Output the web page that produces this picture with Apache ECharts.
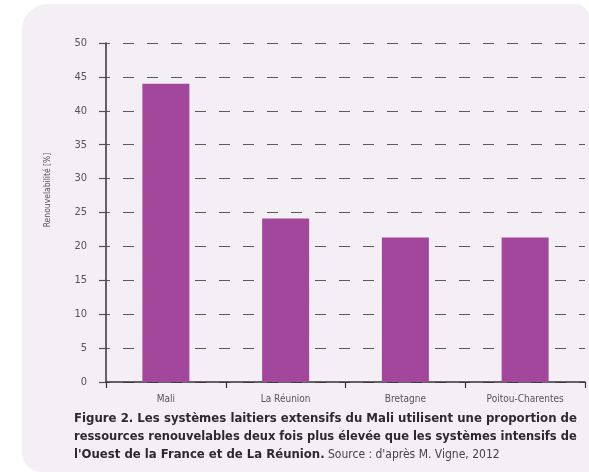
<!DOCTYPE html>
<html>
<head>
<meta charset="utf-8">
<script src="https://cdn.jsdelivr.net/npm/echarts@6/dist/echarts.min.js"></script>
<style>
  html, body { margin: 0; padding: 0; background: #ffffff; }
  #chart { width: 589px; height: 472px; }
</style>
</head>
<body>
<div id="chart"></div>
<script>
// Renewable share of resources used by dairy systems, by region
const categories = ['Mali', 'La Réunion', 'Bretagne', 'Poitou-Charentes'];
const renewableShare = [44, 24.1, 21.3, 21.3];
const yTicks = { min: 0, max: 50, step: 5 };

const axisName = 'Renouvelabilité [%]';
const captionLines = [
  'Figure 2. Les systèmes laitiers extensifs du Mali utilisent une proportion de',
  'ressources renouvelables deux fois plus élevée que les systèmes intensifs de',
  "l'Ouest de la France et de La Réunion."
];
const sourceNote = "Source : d'après M. Vigne, 2012";

const FONT = '"DejaVu Sans Condensed", "Open Sans", sans-serif';

const chart = echarts.init(document.getElementById('chart'), null, { renderer: 'canvas' });

chart.setOption({
  backgroundColor: '#ffffff',
  animation: false,
  grid: { left: 106, right: 4, top: 43, bottom: 90, containLabel: false },
  xAxis: {
    type: 'category',
    data: categories,
    boundaryGap: true,
    axisLine: { lineStyle: { color: '#333333', width: 1.5 } },
    axisTick: { show: true, length: 6, lineStyle: { color: '#333333', width: 1.2 } },
    axisLabel: { color: '#555555', fontFamily: FONT, fontSize: 10, margin: 12 }
  },
  yAxis: {
    type: 'value',
    min: yTicks.min,
    max: yTicks.max,
    interval: yTicks.step,
    axisLine: { show: true, lineStyle: { color: '#333333', width: 1.5 } },
    axisTick: { show: true, length: 7, lineStyle: { color: '#555555', width: 1.2 } },
    axisLabel: { color: '#555555', fontFamily: FONT, fontSize: 11, margin: 19 },
    splitLine: {
      show: true,
      lineStyle: { color: '#5a5a5a', width: 1.2, type: [11, 13], dashOffset: 7 }
    }
  },
  series: [{
    type: 'bar',
    data: renewableShare,
    barWidth: 47,
    itemStyle: { color: '#a2479b' },
    z: 3
  }],
  graphic: [
    {
      type: 'rect',
      z: -10,
      silent: true,
      shape: { x: 22, y: 4, width: 567, height: 468, r: [26, 14, 0, 20] },
      style: { fill: '#f4eef5' }
    },
    {
      type: 'text',
      x: 48, y: 190,
      rotation: Math.PI / 2,
      style: {
        text: axisName,
        fill: '#555555',
        font: '8.5px ' + FONT,
        align: 'center',
        verticalAlign: 'middle'
      }
    },
    {
      type: 'text',
      x: 74, y: 419,
      scaleX: 1.004,
      style: {
        text: captionLines[0],
        fill: '#2b2b2b',
        font: 'bold 13px ' + FONT,
        verticalAlign: 'middle'
      }
    },
    {
      type: 'text',
      x: 74, y: 437,
      scaleX: 0.982,
      style: {
        text: captionLines[1],
        fill: '#2b2b2b',
        font: 'bold 13px ' + FONT,
        verticalAlign: 'middle'
      }
    },
    {
      type: 'text',
      x: 74, y: 455,
      style: {
        text: '{b|' + captionLines[2] + '} {s|' + sourceNote + '}',
        verticalAlign: 'middle',
        rich: {
          b: { fill: '#2b2b2b', font: 'bold 13px ' + FONT },
          s: { fill: '#444444', font: '12px ' + FONT }
        }
      }
    }
  ]
});
</script>
</body>
</html>
